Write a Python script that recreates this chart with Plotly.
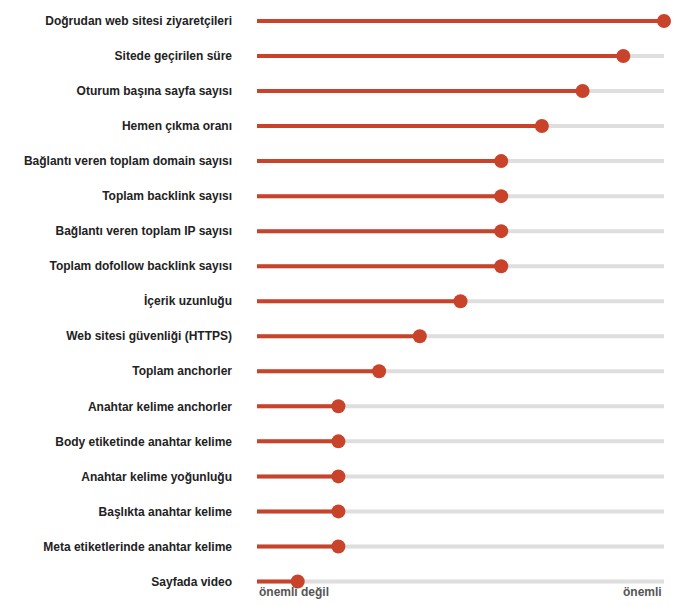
import plotly.graph_objects as go

categories = ["Doğrudan web sitesi ziyaretçileri","Sitede geçirilen süre","Oturum başına sayfa sayısı",
"Hemen çıkma oranı","Bağlantı veren toplam domain sayısı","Toplam backlink sayısı",
"Bağlantı veren toplam IP sayısı","Toplam dofollow backlink sayısı","İçerik uzunluğu",
"Web sitesi güvenliği (HTTPS)","Toplam anchorler","Anahtar kelime anchorler",
"Body etiketinde anahtar kelime","Anahtar kelime yoğunluğu","Başlıkta anahtar kelime",
"Meta etiketlerinde anahtar kelime","Sayfada video"]
values = [1.0,0.9,0.8,0.7,0.6,0.6,0.6,0.6,0.5,0.4,0.3,0.2,0.2,0.2,0.2,0.2,0.1]
axis_labels = ["önemli değil", "önemli"]

idx = list(range(len(categories)))
gx, gy, rx, ry = [], [], [], []
for i, v in zip(idx, values):
    gx += [0, 1, None]; gy += [i, i, None]
    rx += [0, v, None]; ry += [i, i, None]

red = "#c8432a"
fig = go.Figure()
fig.add_trace(go.Scatter(x=gx, y=gy, mode="lines", line=dict(color="#dedede", width=4), hoverinfo="skip"))
fig.add_trace(go.Scatter(x=rx, y=ry, mode="lines", line=dict(color=red, width=4), hoverinfo="skip"))
fig.add_trace(go.Scatter(x=values, y=idx, mode="markers", marker=dict(color=red, size=14), cliponaxis=False))

fig.update_layout(
    width=693, height=606, showlegend=False, plot_bgcolor="white", paper_bgcolor="white",
    margin=dict(l=249, r=37, t=0, b=15),
    font=dict(family="Liberation Sans, Arial", size=12, color="#222"),
    xaxis=dict(range=[0, 1], visible=False),
    yaxis=dict(range=[16.5, -0.37], tickvals=idx, ticktext=[f"<b>{c}</b>" for c in categories],
               showgrid=False, zeroline=False, showline=False, ticks="", ticklabelstandoff=24),
    annotations=[
        dict(x=0, y=0, xref="x", yref="paper", xanchor="left", yanchor="top", yshift=16,
             text=f"<b>{axis_labels[0]}</b>", showarrow=False, font=dict(color="#555", size=12)),
        dict(x=1, y=0, xref="x", yref="paper", xanchor="right", yanchor="top", yshift=16,
             text=f"<b>{axis_labels[1]}</b>", showarrow=False, font=dict(color="#555", size=12)),
    ],
)
fig.write_html("out.html")
